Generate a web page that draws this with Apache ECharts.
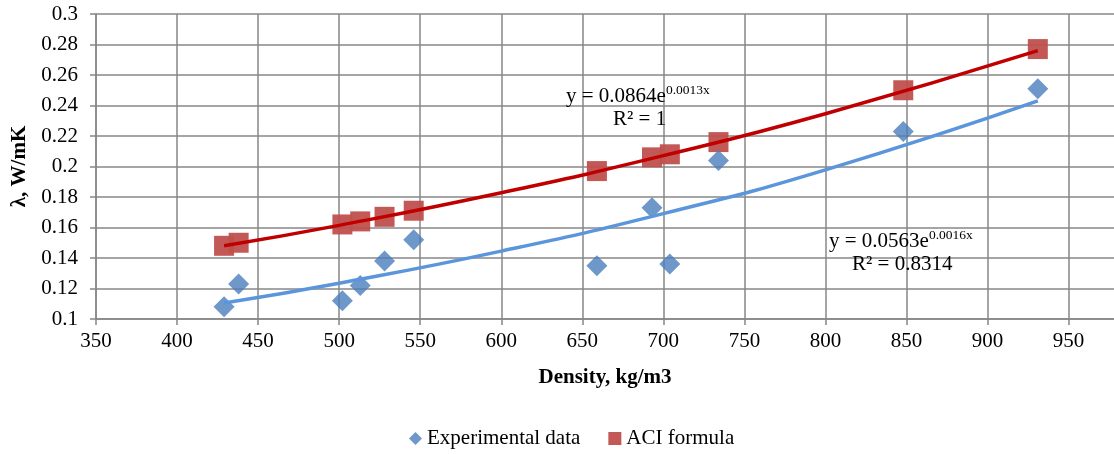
<!DOCTYPE html>
<html>
<head>
<meta charset="utf-8">
<script src="https://cdn.jsdelivr.net/npm/echarts@6/dist/echarts.min.js"></script>
<style>
  * { margin: 0; padding: 0; }
  body { background: #fff; }
</style>
</head>
<body>
<!-- chart container -->
<div id="main" style="width: 1114px;height: 454px;"></div>
<script>
// values
var expDensity = [429, 438, 502, 513, 528, 546, 659, 693, 704, 734, 848, 931];
var expLambda  = [0.108, 0.123, 0.112, 0.122, 0.138, 0.152, 0.135, 0.173, 0.136, 0.204, 0.223, 0.251];
var aciDensity = [429, 438, 502, 513, 528, 546, 659, 693, 704, 734, 848, 931];
var aciLambda  = [0.148, 0.150, 0.162, 0.164, 0.167, 0.171, 0.197, 0.206, 0.208, 0.216, 0.250, 0.277];
// trend lines
var trendX    = [429, 500, 600, 700, 800, 931];
var expTrendY = [0.1105, 0.1235, 0.1445, 0.1691, 0.1978, 0.243];
var aciTrendY = [0.148, 0.1614, 0.1828, 0.2071, 0.2346, 0.276];
// x axis is cut at the right edge of the picture (about 978)
var xTicks = { min: 350, max: 978, step: 50 };
var yTicks = { min: 0.1, max: 0.3, step: 0.02 };

function pairs(xs, ys) {
  var out = [];
  for (var i = 0; i < xs.length; i++) out.push([xs[i], ys[i]]);
  return out;
}

var serif = "Liberation Serif";
var gridColor = "#878787";
var fs = 21;

var option = {
  animation: false,
  textStyle: { fontFamily: serif },
  grid: { left: 96, right: 0, top: 14, bottom: 135, containLabel: false },
  legend: {
    bottom: 0,
    left: 404,
    itemWidth: 13,
    itemHeight: 13,
    itemGap: 28,
    textStyle: { fontFamily: serif, fontSize: fs, color: "#000" },
    data: [
      { name: "Experimental data", icon: "diamond" },
      { name: "ACI formula", icon: "rect" }
    ]
  },
  xAxis: {
    type: "value",
    min: xTicks.min,
    max: xTicks.max,
    interval: xTicks.step,
    name: "Density, kg/m3",
    nameLocation: "middle",
    nameGap: 48,
    nameTextStyle: { fontFamily: serif, fontSize: fs, fontWeight: "bold", color: "#000" },
    axisLine: { show: true, lineStyle: { color: gridColor, width: 1.5 } },
    axisTick: { show: true, length: 6, lineStyle: { color: gridColor, width: 1.5 } },
    axisLabel: { fontFamily: serif, fontSize: fs, color: "#000", margin: 12, showMaxLabel: false },
    splitLine: { show: true, showMaxLine: false, lineStyle: { color: gridColor, width: 1.5 } }
  },
  yAxis: {
    type: "value",
    min: yTicks.min,
    max: yTicks.max,
    interval: yTicks.step,
    name: "λ, W/mK",
    nameLocation: "middle",
    nameGap: 64,
    nameTextStyle: { fontFamily: serif, fontSize: fs, fontWeight: "bold", color: "#000" },
    axisLine: { show: true, lineStyle: { color: gridColor, width: 1.5 } },
    axisTick: { show: true, length: 6, lineStyle: { color: gridColor, width: 1.5 } },
    axisLabel: {
      fontFamily: serif, fontSize: fs, color: "#000", margin: 18,
      formatter: function (v) { return String(parseFloat(v.toFixed(2))); }
    },
    splitLine: { show: true, lineStyle: { color: gridColor, width: 1.5 } }
  },
  series: [
    {
      name: "ACI formula",
      type: "scatter",
      symbol: "rect",
      symbolSize: 20,
      itemStyle: { color: "#c0504d", opacity: 0.95 },
      data: pairs(aciDensity, aciLambda),
      z: 3
    },
    {
      name: "Experimental data",
      type: "scatter",
      symbol: "diamond",
      symbolSize: 21,
      itemStyle: { color: "#4a7ebb" },
      data: pairs(expDensity, expLambda),
      z: 3
    },
    {
      name: "ACI trend",
      type: "line",
      smooth: true,
      silent: true,
      symbol: "none",
      lineStyle: { color: "#c00000", width: 3.5 },
      data: pairs(trendX, aciTrendY),
      z: 4
    },
    {
      name: "Exp trend",
      type: "line",
      smooth: true,
      silent: true,
      symbol: "none",
      lineStyle: { color: "#5b95dc", width: 3.5 },
      data: pairs(trendX, expTrendY),
      z: 4
    }
  ],
  graphic: [
    {
      type: "text", left: 566, top: 83, z: 10,
      style: {
        text: "{a|y = 0.0864e}{s|0.0013x}", fill: "#000",
        rich: {
          a: { fontFamily: serif, fontSize: fs, verticalAlign: "bottom" },
          s: { fontFamily: serif, fontSize: 13.5, verticalAlign: "top", padding: [0, 0, 10, 0] }
        }
      }
    },
    {
      type: "text", left: 613, top: 109, z: 10,
      style: { text: "R² = 1", fill: "#000", font: fs + "px " + serif }
    },
    {
      type: "text", left: 829, top: 228, z: 10,
      style: {
        text: "{a|y = 0.0563e}{s|0.0016x}", fill: "#000",
        rich: {
          a: { fontFamily: serif, fontSize: fs, verticalAlign: "bottom" },
          s: { fontFamily: serif, fontSize: 13.5, verticalAlign: "top", padding: [0, 0, 10, 0] }
        }
      }
    },
    {
      type: "text", left: 852, top: 254, z: 10,
      style: { text: "R² = 0.8314", fill: "#000", font: fs + "px " + serif }
    }
  ]
};

var chart = echarts.init(document.getElementById("main"));
chart.setOption(option);
</script>
</body>
</html>
